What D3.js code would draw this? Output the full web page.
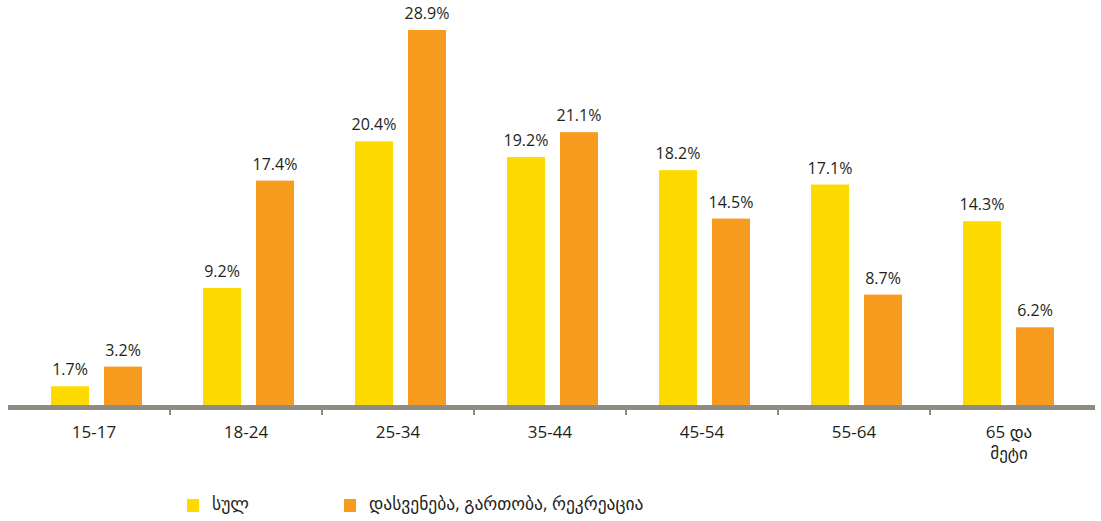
<!DOCTYPE html>
<html lang="ka">
<head>
<meta charset="UTF-8" />
<title>ასაკობრივი ჯგუფები</title>
<script src="https://cdn.jsdelivr.net/npm/d3@7"></script>
<style>
  body { margin: 0; background: #fff; }
  text { font-family: "Open Sans", "DejaVu Sans", sans-serif; fill: #231f20; }
</style>
</head>
<body>
<div id="chart"></div>
<script>
  // age groups
  const categories = ["15-17", "18-24", "25-34", "35-44", "45-54", "55-64", "65 და\nმეტი"];
  const seriesNames = ["სულ", "დასვენება, გართობა, რეკრეაცია"];
  const totalValues = [1.7, 9.2, 20.4, 19.2, 18.2, 17.1, 14.3];
  const leisureValues = [3.2, 17.4, 28.9, 21.1, 14.5, 8.7, 6.2];
  const colors = ["#FFDA00", "#F79C1E"];

  const width = 1101, height = 521;
  const svg = d3.select("#chart").append("svg")
    .attr("width", width)
    .attr("height", height);

  const x = d3.scaleBand()
    .domain(categories)
    .range([18, 1082]);

  const y = d3.scaleLinear()
    .domain([0, 28.9])
    .range([408.5, 30]);

  const barW = 38, gap = 15, shift = 2.5;

  const rows = categories.map((c, i) => ({ cat: c, vals: [totalValues[i], leisureValues[i]] }));

  const groups = svg.append("g").selectAll("g")
    .data(rows)
    .join("g")
    .attr("transform", d => `translate(${x(d.cat) + x.bandwidth() / 2 + shift},0)`);

  groups.selectAll("rect")
    .data(d => d.vals)
    .join("rect")
    .attr("x", (v, j) => j === 0 ? -(barW + gap / 2) : gap / 2)
    .attr("y", v => y(v))
    .attr("width", barW)
    .attr("height", v => y(0) - y(v))
    .attr("fill", (v, j) => colors[j]);

  groups.selectAll("text.val")
    .data(d => d.vals)
    .join("text")
    .attr("class", "val")
    .attr("x", (v, j) => j === 0 ? -(barW / 2 + gap / 2) : barW / 2 + gap / 2)
    .attr("y", v => y(v) - 11)
    .attr("text-anchor", "middle")
    .attr("font-size", 16)
    .text(v => v.toFixed(1) + "%");

  // axis line + ticks between bands
  const axis = svg.append("g");
  axis.append("line")
    .attr("x1", 8).attr("x2", 1095)
    .attr("y1", 407.5).attr("y2", 407.5)
    .attr("stroke", "#8C8B84")
    .attr("stroke-width", 5);

  axis.selectAll("line.tick")
    .data(categories.slice(1))
    .join("line")
    .attr("class", "tick")
    .attr("x1", d => x(d)).attr("x2", d => x(d))
    .attr("y1", 410).attr("y2", 415)
    .attr("stroke", "#8C8B84")
    .attr("stroke-width", 2);

  axis.selectAll("text.cat")
    .data(categories)
    .join("text")
    .attr("class", "cat")
    .attr("x", d => x(d) + x.bandwidth() / 2)
    .attr("y", 438)
    .attr("text-anchor", "middle")
    .attr("font-size", 16)
    .each(function (d) {
      const parts = d.split("\n");
      d3.select(this).selectAll("tspan")
        .data(parts)
        .join("tspan")
        .attr("x", x(d) + x.bandwidth() / 2 + (parts.length > 1 ? 3 : 0))
        .attr("dy", (p, k) => k === 0 ? 0 : 21)
        .attr("font-size", (p, k) => 17)
        .text(p => p);
    });

  // legend
  const legendX = [187, 344];
  const legend = svg.append("g").selectAll("g")
    .data(seriesNames)
    .join("g")
    .attr("transform", (d, i) => `translate(${legendX[i]},499)`);

  legend.append("rect")
    .attr("width", 12).attr("height", 13)
    .attr("fill", (d, i) => colors[i]);

  legend.append("text")
    .attr("x", 25)
    .attr("y", 11)
    .attr("font-size", 17.5)
    .text(d => d);
</script>
</body>
</html>
